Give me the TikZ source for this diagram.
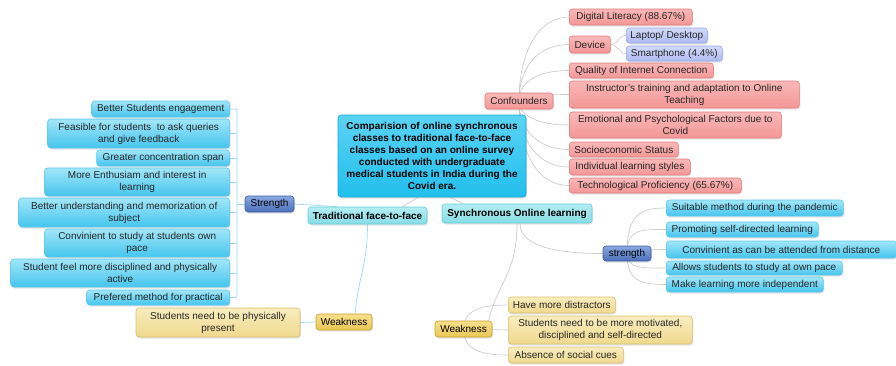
\documentclass[tikz,border=0pt]{standalone}
\usepackage{fontspec}
\setmainfont{Liberation Sans}
\usetikzlibrary{shadows,backgrounds,calc}
\definecolor{cbT}{HTML}{A2E6F8}\definecolor{cbB}{HTML}{45C5EE}\definecolor{cbD}{HTML}{5CC8EA}
\definecolor{ceT}{HTML}{5AD3F5}\definecolor{ceB}{HTML}{22BFEC}\definecolor{ceD}{HTML}{1AA6D6}
\definecolor{tqT}{HTML}{B4EEF2}\definecolor{tqB}{HTML}{86DCE6}\definecolor{tqD}{HTML}{66CCD8}
\definecolor{dbT}{HTML}{8AA7E0}\definecolor{dbB}{HTML}{4C6FBA}\definecolor{dbD}{HTML}{3B5EA6}
\definecolor{pkT}{HTML}{FAB8B8}\definecolor{pkB}{HTML}{F39696}\definecolor{pkD}{HTML}{E07C7C}
\definecolor{lvT}{HTML}{D2DAFB}\definecolor{lvB}{HTML}{AEBBF2}\definecolor{lvD}{HTML}{95A5E6}
\definecolor{ylT}{HTML}{F9EDBF}\definecolor{ylB}{HTML}{EFD98E}\definecolor{ylD}{HTML}{D8C070}
\definecolor{wkT}{HTML}{F7E08C}\definecolor{wkB}{HTML}{EAC755}\definecolor{wkD}{HTML}{C9A030}
\definecolor{lnG}{HTML}{CCCCCC}\definecolor{lnC}{HTML}{9ADCEC}
\begin{document}
\begin{tikzpicture}[x=1pt,y=-1pt,font=\fontsize{10}{12}\selectfont,
  base/.style={rounded corners=3pt,inner sep=1pt,align=center,text=black!85,line width=0.6pt,
    drop shadow={shadow xshift=1pt,shadow yshift=-1.5pt,opacity=0.22}},
  cb/.style={base,draw=cbD,top color=cbT,bottom color=cbB},
  ce/.style={base,draw=ceD,top color=ceT,bottom color=ceB,font=\fontsize{10}{12}\selectfont\bfseries,text=black},
  tq/.style={base,draw=tqD,top color=tqT,bottom color=tqB,font=\fontsize{10}{12}\selectfont\bfseries,text=black},
  db/.style={base,draw=dbD,top color=dbT,bottom color=dbB,text=black},
  pk/.style={base,draw=pkD,top color=pkT,bottom color=pkB},
  lv/.style={base,draw=lvD,top color=lvT,bottom color=lvB},
  yl/.style={base,draw=ylD,top color=ylT,bottom color=ylB},
  wk/.style={base,draw=wkD,top color=wkT,bottom color=wkB,text=black},
  sz/.style 2 args={minimum width=#1,minimum height=#2},
  conn/.style={draw=lnG,line width=0.7pt},
  lconn/.style={draw=lnC,line width=0.7pt}]
\useasboundingbox (0,0) rectangle (896,365);
% central
\node[ce,sz={188}{82}] (central) at (432,156) {Comparision of online synchronous\\classes to traditional face-to-face\\classes based on an online survey\\conducted with undergraduate\\medical students in India during the\\Covid era.};
\node[tq,sz={119}{17}] (trad) at (367.5,215.5) {Traditional face-to-face};
\node[tq,sz={150}{19}] (sync) at (517,213.5) {Synchronous Online learning};
\node[pk,sz={68}{16}] (conf) at (519,101) {Confounders};
% left strength
\node[db,sz={49}{16}] (strL) at (269.5,204) {Strength};
\node[cb,sz={138}{16},anchor=east] (s1) at (230,109) {Better Students engagement};
\node[cb,sz={182}{29},anchor=east] (s2) at (230,133.5) {Feasible for students\ \ to ask queries\\and give feedback};
\node[cb,sz={133}{16},anchor=east] (s3) at (230,158) {Greater concentration span};
\node[cb,sz={185}{28},anchor=east] (s4) at (230,182) {More Enthusiam and interest in\\learning};
\node[cb,sz={211}{29},anchor=east] (s5) at (230,212.5) {Better understanding and memorization of\\subject};
\node[cb,sz={185}{28},anchor=east] (s6) at (230,243) {Convinient to study at students own\\pace};
\node[cb,sz={219}{28},anchor=east] (s7) at (230,273) {Student feel more disciplined and physically\\active};
\node[cb,sz={143}{15},anchor=east] (s8) at (230,297.5) {Prefered method for practical};
% left weakness
\node[wk,sz={56}{16}] (wkL) at (344,322) {Weakness};
\node[yl,sz={164}{29}] (y1) at (218,322.5) {Students need to be physically\\present};
% confounder children
\node[pk,sz={123}{16},anchor=west] (c1) at (569,17) {Digital Literacy (88.67\%)};
\node[pk,sz={41}{17},anchor=west] (c2) at (569,44.5) {Device};
\node[lv,sz={81}{15},anchor=west] (lap) at (626,35.5) {Laptop/ Desktop};
\node[lv,sz={96}{15},anchor=west] (sma) at (626,53.5) {Smartphone (4.4\%)};
\node[pk,sz={144}{15},anchor=west] (c3) at (569,70.5) {Quality of Internet Connection};
\node[pk,sz={230}{27},anchor=west] (c4) at (569,94.5) {Instructor's training and adaptation to Online\\Teaching};
\node[pk,sz={212}{26},anchor=west] (c5) at (569,125) {Emotional and Psychological Factors due to\\Covid};
\node[pk,sz={109}{15},anchor=west] (c6) at (569,149.5) {Socioeconomic Status};
\node[pk,sz={121}{16},anchor=west] (c7) at (569,167) {Individual learning styles};
\node[pk,sz={172}{15},anchor=west] (c8) at (569,185.5) {Technological Proficiency (65.67\%)};
% right strength
\node[db,sz={48}{15}] (strR) at (627,253.5) {strength};
\node[cb,sz={177}{16},anchor=west] (r1) at (666,208) {Suitable method during the pandemic};
\node[cb,sz={152}{15},anchor=west] (r2) at (666,229.5) {Promoting self-directed learning};
\node[cb,sz={230}{17},anchor=west] (r3) at (666,249.5) {Convinient as can be attended from distance};
\node[cb,sz={176}{14},anchor=west] (r4) at (666,268) {Allows students to study at own pace};
\node[cb,sz={157}{15},anchor=west] (r5) at (666,284.5) {Make learning more independent};
% right weakness
\node[wk,sz={57}{16}] (wkR) at (463.5,329) {Weakness};
\node[yl,sz={107}{16},anchor=west] (w1) at (508,305) {Have more distractors};
\node[yl,sz={184}{28},anchor=west] (w2) at (508,330) {Students need to be more motivated,\\disciplined and self-directed};
\node[yl,sz={115}{16},anchor=west] (w3) at (508,355) {Absence of social cues};
\coordinate (bx) at (237,204);
\begin{scope}[on background layer]
  % central links
  \draw[conn] (conf.center) -- (conf.center |- central.center);
  \draw[conn] ($(central.south)+(-14,0)$) -- ($(trad.north)+(35,0)$);
  \draw[conn] ($(central.south)+(18,0)$) -- ($(sync.north)+(-54,0)$);
  % confounders fan
  \foreach \c/\d in {c1/-50,c2/-35,c3/-20,c4/-4,c5/15,c6/30,c7/42,c8/55}
    \draw[conn] (conf.center) .. controls +(0,\d) and +(-30,0) .. (\c.west);
  \draw[conn] (c2.east) .. controls +(8,0) and +(-8,0) .. (lap.west);
  \draw[conn] (c2.east) .. controls +(8,0) and +(-8,0) .. (sma.west);
  % left strength bracket
  \draw[lconn] (strL.east) -- ($(trad.north west)+(30,0)$);
  \draw[lconn] (strL.west) -- (bx);
  \draw[lconn,rounded corners=2pt] (s1.east) -| (bx) |- (s8.east);
  \foreach \s in {s2,s3,s4,s5,s6,s7}
    \draw[lconn] (\s.east) -- (\s.east -| bx);
  % left weakness
  \draw[lconn] (trad.south) .. controls +(0,40) and +(4,-40) .. ($(wkL.north)+(11,0)$);
  \draw[lconn] (wkL.west) -- (y1.east);
  % synchronous
  \draw[conn] ($(sync.south)+(3,0)$) .. controls +(0,25) and +(-40,0) .. (strR.west);
  \draw[conn] (sync.south) .. controls +(0,50) and +(10,-40) .. ($(wkR.north)+(25,0)$);
  \foreach \r/\d in {r1/-40,r2/-25,r3/0,r4/15,r5/28}
    \draw[conn] (strR.center) .. controls +(0,\d) and +(-25,0) .. (\r.west);
  \draw[conn] (wkR.center) .. controls +(0,-20) and +(-25,0) .. (w1.west);
  \draw[conn] (wkR.center) -- (w2.west);
  \draw[conn] (wkR.center) .. controls +(0,22) and +(-25,0) .. (w3.west);
\end{scope}
\end{tikzpicture}
\end{document}
